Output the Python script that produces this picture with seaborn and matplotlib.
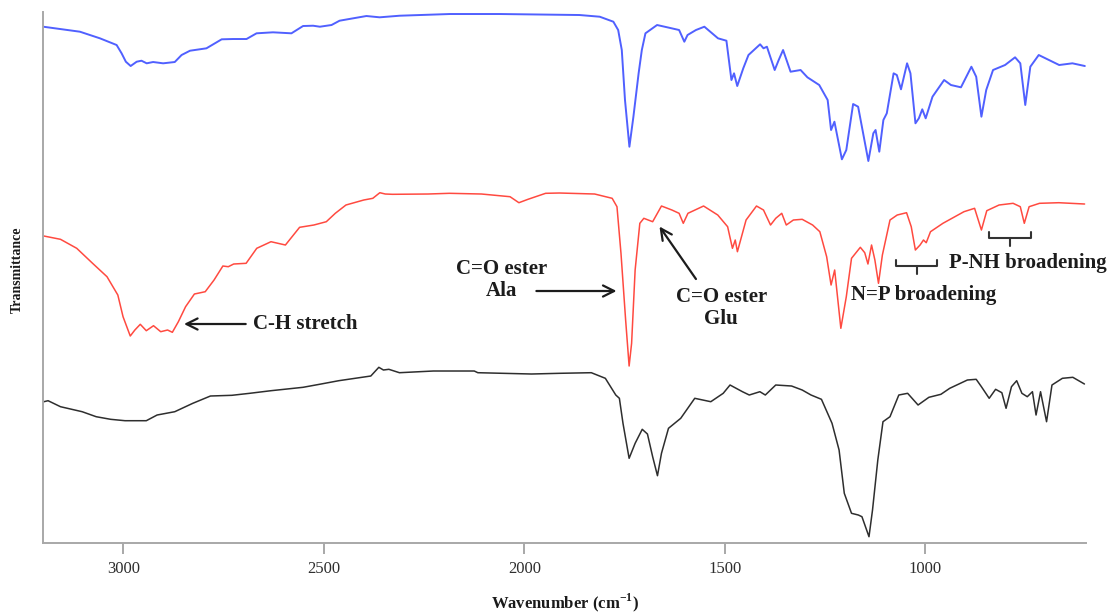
import matplotlib
matplotlib.use("Agg")
import matplotlib.pyplot as plt
import seaborn as sns
import pandas as pd

# ---- FTIR spectra (wavenumber in cm-1, stacked transmittance in arbitrary units) ----
wn_blue = [3200, 3108.5, 3058.7, 3017, 3004.6, 2994, 2982, 2967, 2955, 2942, 2926, 2901,
           2872, 2855, 2834, 2793, 2755, 2727, 2693, 2668, 2627, 2581, 2552, 2527, 2510,
           2481, 2461, 2427, 2394, 2361, 2311, 2186, 2062, 1962, 1862.5, 1812, 1778, 1766,
           1757, 1749, 1738, 1728, 1715, 1707, 1698, 1669, 1643.5, 1614, 1601, 1593, 1572,
           1551, 1517, 1496, 1483.5, 1477, 1469, 1454, 1441, 1412, 1403.5, 1395, 1375.6,
           1365.6, 1354.7, 1336, 1311, 1294, 1264.5, 1243.5, 1235, 1226.6, 1208, 1197, 1180,
           1167.5, 1155, 1142, 1129.6, 1124, 1114.7, 1104.5, 1096, 1079, 1071, 1060.6,
           1045.4, 1037, 1024.5, 1016, 1007.5, 999, 982, 953, 936, 911, 885, 873, 860, 848,
           831, 801, 776, 763, 750.6, 738, 717, 666, 633, 602]
t_blue = [515.8, 510.8, 504.2, 497.5, 489.2, 480.8, 476.5, 480.8, 481.8, 479.2, 480.5, 479.2,
          480.5, 487.5, 491.8, 494.2, 503.2, 503.5, 503.5, 509.2, 510.2, 509.2, 516.5, 516.8,
          515.8, 517.5, 521.8, 524.2, 526.5, 525.2, 526.8, 528.5, 528.5, 528.0, 527.5, 525.8,
          520.8, 512.5, 492.5, 442.5, 395.8, 425.8, 469.2, 492.5, 509.2, 517.5, 515.2, 512.5,
          500.8, 507.5, 512.5, 515.8, 504.2, 501.8, 462.5, 469.2, 456.5, 474.2, 487.5, 498.2,
          494.2, 495.8, 472.5, 482.5, 492.5, 470.8, 472.5, 465.2, 457.5, 442.5, 412.5, 420.8,
          383.2, 392.5, 438.5, 435.8, 409.2, 381.5, 409.2, 412.5, 390.8, 422.5, 429.2, 469.2,
          467.5, 453.2, 479.2, 469.2, 419.2, 424.2, 433.2, 424.2, 445.8, 462.5, 457.5, 455.2,
          475.8, 465.8, 425.8, 452.5, 472.5, 477.5, 485.2, 479.2, 437.5, 475.8, 487.5, 477.5,
          479.2, 476.5]

wn_red = [3198.5, 3157, 3116.5, 3077, 3041, 3014, 3001, 2983, 2971.5, 2958, 2943, 2925, 2907,
          2890, 2878, 2863, 2845, 2823, 2796, 2774, 2752, 2738.5, 2725, 2694, 2667.5, 2632,
          2596, 2560.6, 2525, 2494, 2471.6, 2445, 2400.6, 2378, 2360.5, 2347, 2329, 2240,
          2187, 2107, 2035.7, 2013.6, 1991, 1947, 1912.4, 1824.7, 1781, 1769, 1759, 1747.4,
          1738.7, 1732.5, 1723.7, 1712, 1702, 1680, 1658, 1632, 1614, 1603.6, 1592, 1553,
          1517.6, 1493, 1481, 1474, 1468.6, 1447, 1421, 1403.5, 1386, 1373, 1358, 1346.7,
          1329, 1307, 1281, 1263, 1246, 1235, 1226, 1210.6, 1197, 1184, 1162, 1151, 1143,
          1134, 1125.7, 1116.7, 1107, 1088, 1070, 1046.7, 1035, 1024.7, 1013, 1004.5, 997.6,
          987, 956, 903.6, 877, 860, 846.6, 816, 781, 763, 753, 741, 715, 667, 602.6]
t_red = [306.5, 303.2, 294.2, 279.2, 265.8, 247.5, 225.8, 206.5, 212.5, 218.2, 211.8, 216.8,
         210.8, 212.5, 210.2, 220.8, 235.8, 248.5, 250.8, 262.5, 276.5, 275.8, 278.5, 279.2,
         294.2, 300.8, 297.5, 315.2, 317.5, 320.8, 329.2, 337.5, 342.5, 344.2, 349.8, 348.5,
         348.2, 348.5, 349.2, 348.5, 345.8, 339.8, 343.2, 349.2, 349.5, 348.5, 344.2, 335.8,
         289.2, 222.5, 176.5, 199.2, 272.5, 319.2, 324.2, 320.8, 336.5, 332.5, 329.2, 319.2,
         329.2, 336.5, 327.5, 315.8, 294.2, 302.5, 290.8, 322.5, 336.5, 332.5, 317.5, 324.2,
         329.2, 317.5, 322.5, 323.2, 317.5, 310.8, 285.8, 257.5, 272.5, 214.2, 245.8, 284.2,
         295.2, 289.8, 278.5, 297.5, 282.5, 259.2, 287.5, 322.5, 327.5, 329.8, 315.8, 292.5,
         297.5, 302.5, 299.8, 310.8, 319.2, 330.8, 334.2, 312.5, 331.8, 337.5, 339.2, 335.8,
         319.2, 335.8, 339.2, 339.8, 338.5]

wn_black = [3198.5, 3188, 3157, 3103, 3068, 3032, 2996, 2943, 2916, 2872, 2827, 2783, 2729.5,
            2685, 2632, 2552, 2507, 2463, 2383, 2363, 2351.5, 2338, 2311.6, 2227, 2125, 2116,
            1982, 1912, 1833, 1798, 1772, 1763, 1754, 1738.7, 1723.7, 1706, 1693, 1680, 1668,
            1658, 1640.5, 1610, 1575, 1535, 1504, 1487, 1456, 1439, 1412.5, 1399, 1373,
            1333.5, 1307, 1285, 1259, 1232.6, 1215, 1202, 1184, 1167, 1158, 1140.4, 1131.6,
            1118.4, 1105.5, 1088, 1066, 1044, 1018, 991, 961, 939, 895, 873, 860, 840.6,
            824.6, 809, 798.5, 785, 772, 759, 745.6, 732.7, 723.7, 712.5, 697.5, 684, 658,
            632, 603]
t_black = [140.8, 141.8, 135.8, 130.8, 125.8, 123.2, 121.8, 121.8, 127.5, 130.8, 139.2, 146.5,
           147.2, 149.2, 151.8, 155.2, 158.5, 161.8, 166.5, 175.2, 172.5, 173.2, 169.8, 171.5,
           171.5, 169.8, 168.5, 169.2, 169.8, 164.2, 147.5, 144.2, 119.2, 84.2, 99.2, 113.2,
           108.5, 85.8, 66.8, 89.2, 114.2, 124.2, 144.2, 140.8, 149.2, 157.5, 150.8, 147.5,
           150.8, 147.5, 157.5, 156.5, 152.5, 147.5, 143.2, 119.2, 92.5, 49.2, 29.2, 27.5,
           25.8, 5.8, 32.5, 82.5, 120.8, 125.8, 147.5, 149.2, 137.5, 145.2, 148.2, 154.2,
           162.5, 163.2, 155.8, 144.2, 153.2, 149.8, 134.2, 155.8, 161.8, 149.2, 145.8, 150.8,
           127.5, 150.8, 120.8, 157.5, 164.2, 165.2, 158.5]

tick_values = [3000, 2500, 2000, 1500, 1000]

# bracketed wavenumber ranges (start, end) with bracket height
np_band = (1071.8, 969.7, 276.5)
pnh_band = (840.8, 735.4, 304.2)

# ---- styling ----
sns.set_theme(style="white")
plt.rcParams["font.family"] = ["Liberation Serif", "DejaVu Serif"]
plt.rcParams["mathtext.fontset"] = "custom"
plt.rcParams["mathtext.bf"] = "Liberation Serif:bold"
plt.rcParams["mathtext.rm"] = "Liberation Serif:bold"

fig = plt.figure(figsize=(11.12, 6.13), dpi=100)
ax = fig.add_axes([0.0389, 0.1150, 0.9374, 0.8654])

spectra = [
    (wn_blue, t_blue, "#5060ff", 1.4),
    (wn_red, t_red, "#ff4a40", 1.1),
    (wn_black, t_black, "#2e2e2e", 1.1),
]
for wn, tr, color, lw in spectra:
    df = pd.DataFrame({"wn": wn, "t": tr})
    sns.lineplot(data=df, x="wn", y="t", ax=ax, color=color, linewidth=lw,
                 sort=False, estimator=None)

ax.set_xlim(3200, 600)
ax.set_ylim(0, 530.5)
ax.set_xticks(tick_values)
ax.set_xticklabels([str(v) for v in tick_values])
ax.set_yticks([])

for side in ("top", "right"):
    ax.spines[side].set_visible(False)
for side in ("left", "bottom"):
    ax.spines[side].set_color("#a8a8a8")
    ax.spines[side].set_linewidth(1.4)

ax.tick_params(axis="x", direction="out", length=8, width=1.2, color="#999999",
               labelsize=12, labelcolor="#2e2e2e", pad=5, bottom=True)

ax.set_xlabel("Wavenumber (cm$^{\\mathrm{-1}}$)", fontsize=12, fontweight="bold",
              color="#1a1a1a")
ax.xaxis.set_label_coords(0.5, -0.093)
ax.set_ylabel("Transmittance", fontsize=10, fontweight="bold", color="#1a1a1a")
ax.yaxis.set_label_coords(-0.019, 0.514)

# ---- band annotations ----
txt = dict(fontsize=15, fontweight="bold", color="#1c1c1c")
arrow = dict(arrowstyle="->", color="#1c1c1c", lw=1.6, mutation_scale=20,
             shrinkA=0, shrinkB=0)

ax.annotate("", xy=(2849, 218.5), xytext=(2695, 218.5), arrowprops=arrow)
ax.text(2677, 218.5, "C-H stretch", ha="left", va="center", **txt)

ax.annotate("", xy=(1770, 251.5), xytext=(1970, 251.5), arrowprops=arrow)
ax.text(2057, 262.5, "C=O ester\nAla", ha="center", va="center",
        linespacing=1.15, **txt)

ax.annotate("", xy=(1663, 316), xytext=(1572, 263.5), arrowprops=arrow)
ax.text(1509, 234.2, "C=O ester\nGlu", ha="center", va="center",
        linespacing=1.15, **txt)

ax.text(1186, 247.5, "N=P broadening", ha="left", va="center", **txt)
ax.text(940.5, 279.8, "P-NH broadening", ha="left", va="center", **txt)

for x0, x1, h in (np_band, pnh_band):
    xm = (x0 + x1) / 2
    ax.plot([x0, x0, x1, x1], [h + 6, h, h, h + 6], color="#333333", lw=1.5)
    ax.plot([xm, xm], [h, h - 7.5], color="#333333", lw=1.5)

fig.savefig("out.png", dpi=100)
